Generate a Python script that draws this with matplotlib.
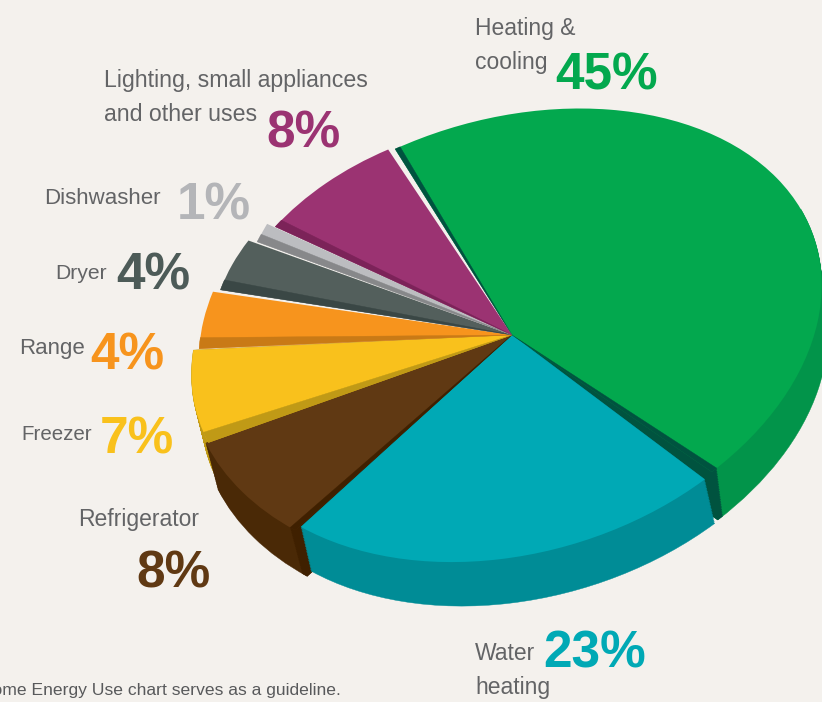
import numpy as np
import matplotlib
matplotlib.use('Agg')
import matplotlib.pyplot as plt
from matplotlib.patches import Wedge
from matplotlib.transforms import Affine2D

categories = ['Heating &\ncooling', 'Water\nheating', 'Refrigerator', 'Freezer', 'Range', 'Dryer', 'Dishwasher', 'Lighting, small appliances\nand other uses']
percent = [45, 23, 8, 7, 4, 4, 1, 8]
top_colors = ['#03a84e', '#00a9b5', '#603913', '#f9c11c', '#f7941d', '#535f5c', '#bcbdc0', '#9b3372']
wall_colors = ['#02944a', '#008c96', '#4a2906', '#c09a16', '#c97a16', '#3a4745', '#87888a', '#7c2359']
strip_colors = ['#00533f', '#00533f', '#3f2000', '#c09a16', '#c97a16', '#3a4745', '#87888a', '#7c2359']
num_colors = ['#03a84e', '#00a9b5', '#603913', '#f9c11c', '#f7941d', '#4d5b58', '#b4b5b8', '#9b3372']
footer = 'Home Energy Use chart serves as a guideline.'

W, H = 822, 702
BG = '#f4f1ed'
FONT = ['Liberation Sans', 'DejaVu Sans']
fig = plt.figure(figsize=(W/100, H/100), dpi=100, facecolor=BG)
pix = fig.add_axes([0, 0, 1, 1])
pix.set_xlim(0, W); pix.set_ylim(H, 0); pix.axis('off')
ax = fig.add_axes([0, 0, 1, 1]); ax.patch.set_alpha(0)

# unit circle -> skewed ellipse in picture pixels, one per slice (perspective of the artwork)
APEX = (512, 335)
shape = [(306, -15, 47.5, -226), (301, -6, 52.5, -227),
         (321, 0, 46, -235), (317, -6.6, 48, -221),
         (312, -5, 28, -228), (301, 1, 12.5, -209),
         (295, -46, 20, -300), (292, -1, 31, -217)]
def ell(i):
    return Affine2D.from_values(*shape[i], *APEX)

START = 121
wedges = ax.pie(percent, colors=top_colors, startangle=START, counterclock=False,
                wedgeprops=dict(linewidth=0))[0]
ax.axis('off')
edges = START - np.cumsum([0] + percent) * 3.6
starts, ends = edges[:-1], edges[1:]
for i, w in enumerate(wedges):
    w.set_transform(ell(i) + pix.transData)
    w.set_zorder(20 + i)
    w.set_clip_on(False)

def add(i, theta1, theta2, color, z, dx=0, dy=0):
    p = Wedge((0, 0), 1, theta1, theta2, fc=color, ec=color, lw=0.3, zorder=z, clip_on=False)
    p.set_transform(ell(i) + Affine2D().translate(dx, dy) + pix.transData)
    ax.add_patch(p)

# extruded outer walls of the front slices
wall_offset = {3: (10, 40), 2: (12, 46), 1: (10, 44), 0: (6, 48)}
green_strip_end, brown_strip = 1.2, 1.2
for order, i in enumerate([3, 2, 0, 1]):
    top = min(starts[i], 30)
    for k in np.linspace(1, 0, 30):
        dx, dy = wall_offset[i][0]*k, wall_offset[i][1]*k
        add(i, ends[i], top, wall_colors[i], 5 + order, dx, dy)
        if i == 0:
            add(0, ends[0], ends[0] + green_strip_end, strip_colors[0], 5 + order + .5, dx, dy)
        if i == 2:
            add(2, starts[2] - brown_strip, starts[2], strip_colors[2], 5 + order + .5, dx, dy)

# cut faces that show inside each slice
add(0, ends[0], ends[0] + green_strip_end, strip_colors[0], 40)
add(0, starts[0] - 1.0, starts[0], strip_colors[0], 40)
add(2, starts[2] - brown_strip, starts[2], strip_colors[2], 40)
strip_deg = {3: 3.0, 4: 2.8, 5: 2.8, 6: 1.5, 7: 2.0}
for i, d in strip_deg.items():
    add(i, starts[i] - d, starts[i], strip_colors[i], 40)

TXT = dict(color='#636466', family=FONT, va='baseline')
BIG = dict(family=FONT, va='baseline', ha='left', fontsize=37, fontweight='bold')
label_x = [475, 475, 138.5, 21, 19, 55, 44, 104]
label_y = [35, 660, 526, 440, 354, 279, 204, 87]
label_ha = ['left', 'left', 'center', 'left', 'left', 'left', 'left', 'left']
label_size = [16.5, 16.5, 16.5, 14.8, 16, 15.2, 16, 16.7]
line_step = 34
num_x = [555, 543, 136, 100, 90, 116, 177, 266]
num_y = [90, 667, 587, 453, 369, 289, 219, 147]
for i in range(8):
    for j, line in enumerate(categories[i].split('\n')):
        pix.text(label_x[i], label_y[i] + j*line_step, line, ha=label_ha[i], fontsize=label_size[i], **TXT)
    pix.text(num_x[i], num_y[i], f'{percent[i]}%', color=num_colors[i], **BIG)
pix.text(-20, 695, footer, color='#58595b', fontsize=12.6, family=FONT, va='baseline')
fig.savefig('out.png', dpi=100, facecolor=BG)
